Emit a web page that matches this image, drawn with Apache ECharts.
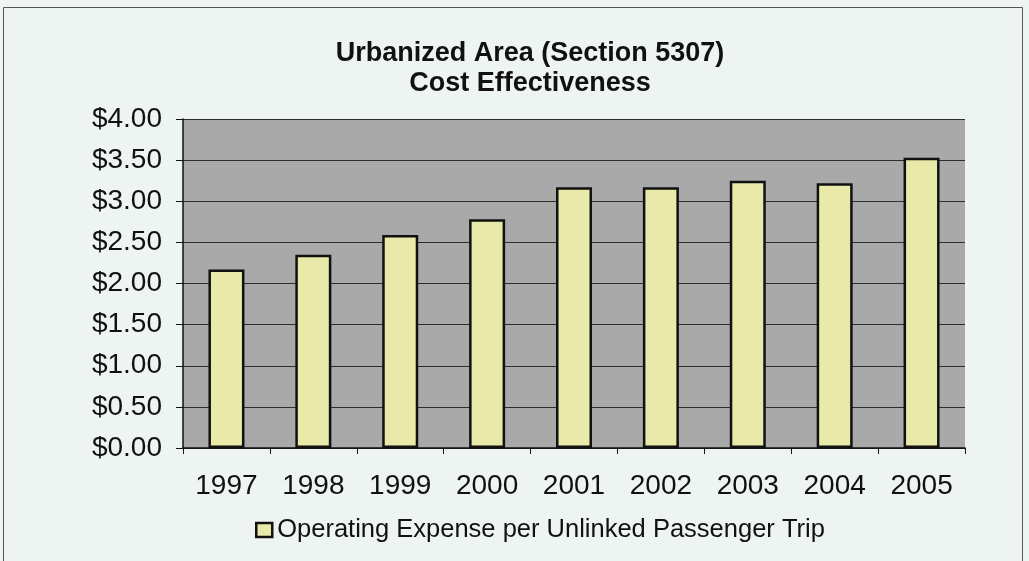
<!DOCTYPE html>
<html>
<head>
<meta charset="utf-8">
<title>Urbanized Area (Section 5307) Cost Effectiveness</title>
<script src="https://cdn.jsdelivr.net/npm/echarts@6/dist/echarts.min.js"></script>
<style>
    html, body { margin: 0; padding: 0; background: #eef4f1; }
    #main { width: 1029px; height: 561px; }
</style>
</head>
<body>
<div id="main"></div>
<script>
    // categories and values
    var years = ['1997', '1998', '1999', '2000', '2001', '2002', '2003', '2004', '2005'];
    var expensePerTrip = [2.17, 2.35, 2.59, 2.78, 3.17, 3.17, 3.25, 3.22, 3.53];
    var seriesName = 'Operating Expense per Unlinked Passenger Trip';
    var titleLines = ['Urbanized Area (Section 5307)', 'Cost Effectiveness'];

    var myChart = echarts.init(document.getElementById('main'));
    var font = 'Liberation Sans, Arial, sans-serif';

    var option = {
        backgroundColor: '#eef4f1',
        animation: false,
        title: {
            text: titleLines.join('\n'),
            // title sits a bit right of the page middle
            left: 530,
            top: 39,
            padding: 0,
            textAlign: 'center',
            textStyle: {
                fontFamily: font,
                fontSize: 27,
                fontWeight: 'bold',
                color: '#111',
                lineHeight: 30
            }
        },
        // outer frame of the chart
        graphic: [{
            type: 'rect',
            shape: { x: 3.5, y: 7.5, width: 1019, height: 560 },
            style: { fill: 'none', stroke: '#555', lineWidth: 1 },
            silent: true
        }],
        legend: {
            data: [seriesName],
            left: 250,
            top: 512,
            icon: 'rect',
            itemWidth: 16,
            itemHeight: 14,
            itemStyle: { borderWidth: 2.5, borderColor: '#111' },
            textStyle: { fontFamily: font, fontSize: 25.5, color: '#111' }
        },
        grid: {
            left: 183,
            right: 64,
            top: 119,
            bottom: 113,
            show: true,
            backgroundColor: '#a9a9a9',
            borderWidth: 0
        },
        xAxis: {
            type: 'category',
            data: years,
            boundaryGap: true,
            axisLine: { lineStyle: { color: '#111', width: 1.5 } },
            axisTick: { show: true, length: 6, inside: false, lineStyle: { color: '#111' } },
            axisLabel: { fontFamily: font, fontSize: 28, color: '#111', margin: 24 }
        },
        yAxis: {
            type: 'value',
            min: 0,
            max: 4,
            interval: 0.5,
            axisLine: { show: true, lineStyle: { color: '#111', width: 1.5 } },
            axisTick: { show: true, length: 7, lineStyle: { color: '#111' } },
            axisLabel: {
                fontFamily: font,
                fontSize: 28,
                color: '#111',
                margin: 21,
                formatter: function (v) { return '$' + v.toFixed(2); }
            },
            splitLine: { show: true, lineStyle: { color: '#2e2e2e', width: 1 } }
        },
        series: [{
            name: seriesName,
            type: 'bar',
            data: expensePerTrip,
            barWidth: 36,
            itemStyle: {
                color: '#e9e9aa',
                borderColor: '#111',
                borderWidth: 2.5
            }
        }]
    };
    myChart.setOption(option);
</script>
</body>
</html>
